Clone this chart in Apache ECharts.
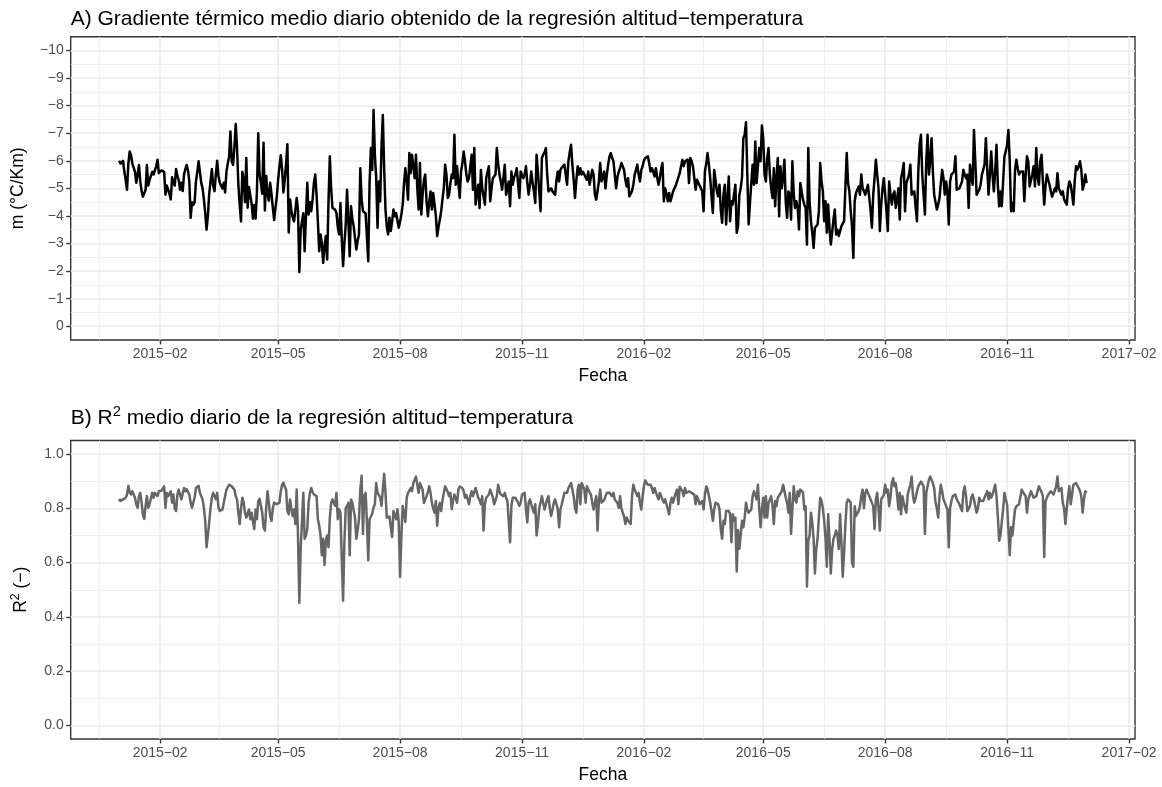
<!DOCTYPE html>
<html>
<head>
<meta charset="utf-8">
<script src="https://cdn.jsdelivr.net/npm/echarts@6.0.0/dist/echarts.min.js"></script>
<style>
  html, body { margin: 0; padding: 0; background: #ffffff; }
  #chart { width: 1162px; height: 787px; }
</style>
</head>
<body>
<div id="chart"></div>
<script>
// Daily series, one value per day starting at START_DATE
const START_DATE = '2015-01-01';

// A) mean daily lapse rate (°C/Km)
const gradientValues = [
  -6.0,-5.9,-5.95,-6.0,-5.6,-5.3,-4.95,-5.9,-6.34,-6.2,
  -5.9,-5.75,-5.6,-5.2,-5.5,-5.85,-5.25,-4.9,-4.7,-4.75,
  -4.95,-5.85,-5.1,-5.3,-5.25,-5.6,-5.5,-5.65,-5.8,-6.04,
  -5.55,-5.6,-5.65,-5.7,-5.6,-4.77,-5.1,-4.95,-4.8,-4.6,
  -5.4,-5.2,-5.1,-5.7,-5.45,-5.3,-4.95,-5.2,-4.9,-5.5,
  -5.7,-5.85,-5.65,-5.25,-3.93,-4.5,-4.4,-4.5,-5.25,-5.6,
  -5.98,-5.6,-5.2,-5.0,-4.6,-4.1,-3.5,-4.0,-4.8,-5.25,
  -5.7,-5.1,-4.9,-5.5,-6.0,-5.45,-5.2,-5.1,-5.0,-5.2,
  -4.85,-5.6,-5.9,-6.15,-7.06,-5.98,-5.85,-6.5,-7.33,-6.45,
  -5.15,-4.4,-3.8,-5.6,-5.3,-4.5,-6.1,-4.3,-5.05,-5.1,
  -4.45,-3.9,-4.4,-3.9,-4.86,-7.0,-5.5,-5.2,-4.8,-6.65,
  -4.2,-5.45,-4.8,-4.55,-5.2,-4.8,-4.3,-3.85,-4.3,-4.7,
  -5.3,-5.8,-6.2,-5.7,-4.85,-5.3,-5.9,-6.6,-3.4,-4.6,
  -4.2,-3.93,-3.8,-4.2,-4.65,-4.2,-1.97,-3.5,-3.8,-4.1,
  -2.72,-4.0,-5.2,-4.05,-4.5,-4.17,-4.6,-5.2,-5.5,-4.77,
  -3.8,-2.72,-3.33,-3.0,-2.3,-2.9,-3.27,-2.42,-4.5,-6.16,
  -5.0,-4.29,-4.3,-4.23,-4.1,-3.6,-3.33,-4.47,-3.2,-2.18,
  -3.0,-3.69,-4.95,-3.8,-2.54,-4.35,-3.9,-3.63,-3.69,-2.78,
  -3.1,-3.33,-5.73,-4.6,-4.17,-4.23,-4.1,-4.05,-2.36,-5.2,
  -6.46,-5.67,-7.84,-6.2,-5.37,-3.57,-5.25,-4.53,-6.5,-7.66,
  -5.73,-4.23,-3.6,-3.33,-3.93,-3.45,-3.8,-4.23,-3.99,-4.1,
  -4.05,-3.57,-3.8,-4.05,-4.41,-5.2,-5.73,-5.25,-4.59,-6.28,
  -5.55,-6.22,-5.8,-5.37,-6.22,-5.0,-4.23,-5.92,-4.05,-4.77,
  -5.3,-5.5,-4.53,-3.99,-4.5,-4.89,-4.23,-4.83,-4.77,-4.0,
  -3.27,-3.6,-3.87,-4.17,-4.6,-5.0,-5.86,-5.5,-4.65,-4.77,
  -5.2,-5.5,-5.37,-6.94,-5.13,-5.8,-5.2,-4.65,-5.61,-5.9,
  -6.34,-5.98,-5.5,-5.25,-5.37,-5.8,-6.22,-4.95,-6.46,-4.41,
  -4.8,-5.13,-4.29,-5.67,-5.0,-4.7,-4.41,-5.37,-5.6,-5.8,
  -4.53,-5.0,-5.37,-5.4,-5.5,-6.46,-5.9,-5.5,-5.25,-4.95,
  -5.4,-5.86,-4.77,-5.0,-5.25,-4.35,-5.61,-5.13,-5.4,-5.5,
  -5.73,-5.2,-4.65,-5.61,-5.5,-5.37,-5.5,-5.8,-5.2,-4.77,
  -5.13,-5.61,-5.2,-4.89,-4.47,-6.22,-5.61,-4.9,-4.17,-6.1,
  -6.22,-6.3,-6.46,-5.5,-4.89,-4.95,-5.0,-4.89,-4.85,-4.77,
  -5.3,-5.61,-5.25,-5.67,-5.75,-5.8,-5.86,-5.5,-5.13,-5.98,
  -6.3,-6.58,-5.86,-5.3,-4.65,-5.3,-5.8,-5.5,-5.73,-5.5,
  -5.6,-5.67,-5.4,-5.31,-5.61,-5.13,-5.4,-5.67,-5.5,-4.77,
  -4.59,-4.9,-5.25,-5.92,-5.25,-5.4,-5.61,-5.0,-5.5,-5.86,
  -6.16,-6.28,-6.1,-5.98,-5.5,-5.0,-5.4,-5.61,-5.73,-5.92,
  -5.8,-5.67,-5.3,-5.07,-5.37,-4.71,-4.65,-4.9,-5.13,-5.5,
  -5.67,-5.86,-5.5,-5.25,-5.67,-5.8,-6.0,-6.1,-6.04,-6.16,
  -5.9,-5.61,-5.73,-5.6,-5.43,-5.73,-5.4,-5.13,-5.37,-5.7,
  -5.92,-4.53,-5.0,-4.8,-4.53,-4.83,-4.53,-4.7,-4.89,-5.0,
  -5.1,-5.25,-5.31,-5.55,-5.8,-6.04,-5.8,-5.98,-6.0,-6.04,
  -5.19,-6.1,-5.98,-5.8,-5.73,-4.95,-5.31,-5.25,-5.1,-5.0,
  -4.89,-4.17,-5.61,-5.9,-6.28,-5.86,-5.37,-4.7,-4.11,-5.67,
  -5.31,-4.9,-4.71,-5.13,-4.2,-3.75,-4.77,-5.13,-3.69,-4.6,
  -5.43,-3.81,-4.53,-4.41,-4.8,-5.13,-3.39,-3.63,-4.77,-5.0,
  -5.4,-6.82,-6.94,-7.4,-5.5,-3.69,-4.47,-5.2,-5.86,-5.13,
  -6.7,-5.19,-5.8,-6.46,-5.98,-7.28,-6.82,-5.5,-5.25,-6.1,
  -6.46,-5.5,-5.0,-4.65,-5.73,-4.35,-5.4,-6.1,-3.99,-5.8,
  -5.0,-5.37,-6.04,-4.5,-3.93,-4.89,-4.77,-3.87,-5.98,-4.8,
  -4.29,-4.53,-4.29,-3.51,-5.19,-4.89,-4.6,-4.41,-4.29,-2.96,
  -6.46,-4.5,-3.81,-3.39,-2.84,-3.57,-3.6,-3.69,-4.17,-5.92,
  -5.25,-4.89,-3.81,-4.53,-3.39,-4.41,-3.57,-2.96,-3.4,-3.87,
  -4.23,-3.33,-3.5,-3.27,-3.45,-3.63,-3.69,-3.81,-3.75,-6.28,
  -5.2,-4.89,-4.17,-3.63,-2.48,-4.53,-4.83,-4.9,-5.07,-4.77,
  -5.5,-5.0,-4.9,-4.77,-4.83,-5.13,-5.13,-4.2,-3.57,-4.77,
  -5.37,-6.04,-5.5,-5.0,-3.45,-4.41,-5.0,-5.37,-4.77,-4.17,
  -3.45,-5.25,-4.8,-4.41,-4.77,-4.89,-4.29,-4.6,-5.0,-3.87,
  -5.37,-5.6,-5.92,-4.17,-5.19,-5.13,-5.5,-5.86,-4.77,-4.83,
  -4.89,-4.3,-3.81,-5.61,-6.58,-6.94,-5.5,-4.77,-4.05,-5.98,
  -6.94,-5.5,-6.0,-6.82,-5.61,-4.77,-4.5,-4.23,-4.41,-4.65,
  -5.2,-5.67,-5.37,-4.77,-5.25,-4.89,-3.69,-5.25,-5.5,-5.55,
  -5.61,-6.16,-4.95,-5.0,-5.0,-5.07,-5.25,-5.67,-5.5,-5.37,
  -5.5,-4.29,-5.86,-5.4,-5.13,-7.12,-5.98,-4.77,-4.8,-4.95,
  -5.13,-5.5,-5.55,-5.86,-6.82,-5.73,-4.77,-5.5,-6.34,-5.5,
  -4.89,-5.61,-6.58,-5.13,-4.35,-4.89,-4.35,-4.29,-6.16,-6.34,
  -6.58,-7.12,-5.98,-4.17,-4.47,-4.17,-5.67,-6.04,-5.73,-5.5,
  -5.6,-5.67,-5.61,-4.53,-5.5,-6.16,-5.98,-5.07,-5.13,-5.5,
  -5.8,-5.07,-6.46,-5.4,-5.13,-5.98,-6.22,-5.25,-4.41,-5.1,
  -5.5,-5.5,-5.13,-4.89,-4.7,-4.65,-5.0,-4.89,-5.55,-5.0,
  -5.0,-4.77,-4.89,-4.6,-4.53,-4.41,-5.0,-5.25,-5.13,-4.8,
  -4.41,-5.25,-5.8,-5.67,-5.8,-5.98,-5.67,-4.95,-5.13,-5.5,
  -5.19
];

// B) mean daily R² of the altitude-temperature regression
const r2Values = [
  .835,.827,.82,.833,.836,.839,.851,.883,.86,.851,
  .863,.857,.839,.815,.802,.845,.857,.821,.775,.761,
  .809,.845,.802,.815,.821,.857,.839,.857,.85,.845,
  .863,.857,.865,.869,.881,.802,.857,.845,.85,.863,
  .821,.851,.80,.79,.851,.869,.851,.833,.84,.875,
  .863,.871,.86,.851,.821,.802,.808,.84,.875,.881,
  .883,.857,.845,.833,.802,.754,.657,.70,.748,.802,
  .839,.857,.845,.833,.857,.802,.79,.79,.796,.79,
  .845,.869,.875,.887,.893,.881,.875,.869,.845,.833,
  .784,.742,.80,.839,.821,.784,.766,.78,.796,.76,
  .784,.75,.724,.796,.76,.827,.835,.839,.784,.73,
  .718,.80,.863,.821,.772,.754,.80,.821,.827,.815,
  .818,.821,.863,.887,.895,.88,.869,.79,.778,.833,
  .80,.772,.796,.742,.869,.70,.452,.651,.75,.857,
  .688,.70,.724,.821,.857,.875,.86,.851,.851,.845,
  .76,.736,.70,.627,.688,.591,.68,.70,.657,.764,
  .82,.833,.83,.809,.857,.76,.797,.785,.62,.46,
  .675,.80,.809,.821,.627,.833,.82,.815,.766,.688,
  .72,.76,.869,.92,.706,.845,.857,.75,.609,.76,
  .754,.78,.803,.815,.893,.857,.863,.84,.809,.869,
  .927,.857,.766,.76,.77,.772,.694,.79,.775,.76,
  .797,.75,.548,.70,.809,.815,.75,.839,.857,.865,
  .875,.863,.893,.905,.917,.923,.857,.893,.88,.869,
  .82,.815,.845,.86,.881,.857,.82,.80,.784,.827,
  .736,.80,.82,.79,.83,.857,.881,.875,.86,.845,
  .857,.797,.83,.851,.857,.82,.869,.88,.887,.875,
  .863,.839,.85,.857,.815,.845,.863,.845,.86,.875,
  .857,.839,.83,.815,.845,.718,.815,.839,.845,.851,
  .869,.857,.84,.815,.809,.845,.887,.863,.851,.851,
  .845,.857,.84,.827,.82,.675,.809,.839,.833,.839,
  .83,.821,.809,.821,.85,.857,.857,.796,.748,.821,
  .833,.815,.808,.784,.815,.70,.742,.80,.821,.845,
  .851,.796,.80,.833,.845,.80,.772,.796,.821,.833,
  .815,.796,.73,.796,.815,.821,.857,.863,.857,.875,
  .881,.893,.887,.845,.80,.784,.869,.887,.815,.893,
  .899,.87,.821,.881,.869,.875,.85,.821,.796,.80,
  .845,.718,.827,.869,.821,.815,.83,.845,.857,.863,
  .857,.85,.845,.857,.833,.839,.82,.802,.845,.80,
  .784,.77,.742,.766,.754,.75,.742,.845,.887,.87,
  .857,.845,.857,.82,.796,.845,.881,.903,.895,.887,
  .881,.887,.875,.857,.875,.86,.845,.833,.857,.845,
  .84,.821,.833,.815,.808,.778,.821,.839,.821,.84,
  .857,.869,.815,.88,.887,.863,.845,.875,.857,.863,
  .863,.869,.857,.863,.85,.815,.845,.833,.815,.82,
  .827,.796,.851,.881,.87,.845,.821,.79,.754,.796,
  .821,.827,.815,.796,.72,.688,.754,.742,.79,.796,
  .79,.778,.675,.778,.754,.766,.567,.72,.651,.70,
  .754,.73,.766,.821,.796,.784,.79,.796,.845,.863,
  .85,.833,.887,.80,.73,.796,.839,.766,.845,.766,
  .82,.821,.845,.81,.742,.827,.808,.839,.845,.855,
  .863,.887,.881,.84,.821,.784,.857,.706,.80,.881,
  .833,.821,.863,.845,.869,.875,.86,.796,.808,.512,
  .68,.70,.784,.748,.688,.56,.65,.688,.766,.839,
  .827,.80,.754,.688,.585,.778,.688,.56,.65,.688,
  .70,.718,.70,.65,.778,.675,.548,.636,.742,.821,
  .833,.839,.821,.60,.585,.808,.772,.778,.79,.808,
  .845,.869,.80,.857,.869,.865,.845,.839,.82,.808,
  .724,.833,.857,.80,.718,.833,.827,.85,.887,.857,
  .869,.808,.84,.893,.911,.881,.893,.85,.796,.857,
  .778,.845,.821,.80,.784,.85,.869,.887,.917,.845,
  .821,.84,.863,.881,.887,.899,.89,.881,.706,.857,
  .881,.905,.917,.91,.893,.875,.821,.80,.766,.845,
  .887,.863,.833,.821,.808,.796,.657,.802,.827,.845,
  .845,.851,.833,.827,.815,.808,.79,.86,.881,.845,
  .79,.796,.808,.84,.851,.833,.827,.784,.80,.839,
  .827,.821,.827,.84,.845,.863,.833,.857,.839,.85,
  .857,.887,.845,.772,.681,.70,.75,.796,.857,.833,
  .815,.72,.627,.73,.70,.75,.796,.808,.815,.815,
  .821,.869,.86,.857,.845,.784,.833,.84,.863,.857,
  .839,.833,.845,.851,.881,.887,.86,.845,.621,.827,
  .833,.85,.857,.863,.869,.851,.845,.88,.917,.863,
  .857,.875,.821,.80,.742,.80,.845,.881,.815,.821,
  .887,.89,.893,.887,.875,.863,.845,.784,.833,.863,
  .857
];

// Axis breaks
const dateTicks = ['2015-02-01','2015-05-01','2015-08-01','2015-11-01',
                   '2016-02-01','2016-05-01','2016-08-01','2016-11-01','2017-02-01'];
const dateBreaksOuter = ['2014-11-01', '2017-05-01'];
const gradientTicks = [-10, -9, -8, -7, -6, -5, -4, -3, -2, -1, 0];
const r2Ticks = [0, 0.2, 0.4, 0.6, 0.8, 1.0];

// ---------------------------------------------------------------
const DAY = 86400000;
const FONT = "'Liberation Sans', Arial, Helvetica, sans-serif";
const MINUS = '\u2212';
const t0 = Date.parse(START_DATE);
const nDays = gradientValues.length - 1;
const pad = nDays * 0.05;                 // 5 % expansion on each side
const xMin = t0 - pad * DAY;
const xMax = t0 + (nDays + pad) * DAY;

const toPairs = vals => vals.map((v, i) => [t0 + i * DAY, v]);
const majorX = dateTicks.map(d => Date.parse(d));
const allBreaks = [Date.parse(dateBreaksOuter[0])].concat(majorX, [Date.parse(dateBreaksOuter[1])]);
const minorX = [];
for (let i = 0; i < allBreaks.length - 1; i++) {
  const m = (allBreaks[i] + allBreaks[i + 1]) / 2;
  if (m > xMin && m < xMax) minorX.push(m);
}
const midpoints = ticks => ticks.slice(0, -1).map((v, i) => (v + ticks[i + 1]) / 2);

const fmtDate = t => {
  const d = new Date(t);
  return d.getUTCFullYear() + MINUS + String(d.getUTCMonth() + 1).padStart(2, '0');
};
const fmtSigned = v => (v < 0 ? MINUS + Math.abs(v) : String(v));

const GRID_MAJOR = { color: '#ebebeb', width: 1.6, type: 'solid' };
const GRID_MINOR = { color: '#ebebeb', width: 0.8, type: 'solid' };

function gridMarks(yMajor, yMinor) {
  const data = [];
  minorX.forEach(v => data.push({ xAxis: v, lineStyle: GRID_MINOR }));
  yMinor.forEach(v => data.push({ yAxis: v, lineStyle: GRID_MINOR }));
  majorX.forEach(v => data.push({ xAxis: v, lineStyle: GRID_MAJOR }));
  yMajor.forEach(v => data.push({ yAxis: v, lineStyle: GRID_MAJOR }));
  return {
    silent: true, symbol: ['none', 'none'], label: { show: false },
    emphasis: { disabled: true }, animation: false, z: 1, data
  };
}

const tickStyle = { show: true, length: 4.4, lineStyle: { color: '#333333', width: 1.4 } };
const labelStyle = { color: '#4d4d4d', fontSize: 14, fontFamily: FONT, margin: 7 };
const axisTitleStyle = { color: '#000000', fontSize: 17.5, fontFamily: FONT, lineHeight: 21 };

function xAxisFor(gridIndex) {
  return {
    gridIndex, type: 'value', min: xMin, max: xMax, position: 'bottom',
    axisLine: { show: false, onZero: false },
    axisTick: Object.assign({ customValues: majorX }, tickStyle),
    axisLabel: Object.assign({ customValues: majorX, formatter: fmtDate }, labelStyle),
    splitLine: { show: false },
    name: 'Fecha', nameLocation: 'middle', nameGap: 26,
    nameTextStyle: Object.assign({ verticalAlign: 'top' }, axisTitleStyle)
  };
}

const gridBase = { show: true, borderColor: '#333333', borderWidth: 1.4, backgroundColor: '#ffffff', containLabel: false };

const option = {
  animation: false,
  textStyle: { fontFamily: FONT },
  title: [
    {
      text: 'A) Gradiente térmico medio diario obtenido de la regresión altitud' + MINUS + 'temperatura',
      left: 70.7, top: 7, padding: 0,
      textStyle: { fontSize: 21, fontWeight: 'normal', color: '#000000', fontFamily: FONT, lineHeight: 24 }
    },
    {
      text: 'B) R{sup|2} medio diario de la regresión altitud' + MINUS + 'temperatura',
      left: 70.7, top: 404, padding: 0,
      textStyle: {
        fontSize: 21, fontWeight: 'normal', color: '#000000', fontFamily: FONT, lineHeight: 28,
        rich: { sup: { fontSize: 14.7, lineHeight: 15, verticalAlign: 'top', color: '#000000', fontFamily: FONT } }
      }
    }
  ],
  grid: [
    Object.assign({ left: 70.7, top: 36.7, width: 1064.3, height: 303.3 }, gridBase),
    Object.assign({ left: 70.7, top: 440.5, width: 1064.3, height: 302.3 }, gridBase)
  ],
  xAxis: [xAxisFor(0), xAxisFor(1)],
  yAxis: [
    {
      gridIndex: 0, type: 'value', inverse: true, min: -10.5, max: 0.5, position: 'left',
      axisLine: { show: false, onZero: false },
      axisTick: Object.assign({ customValues: gradientTicks }, tickStyle),
      axisLabel: Object.assign({ customValues: gradientTicks, formatter: fmtSigned }, labelStyle),
      splitLine: { show: false },
      name: 'm (°C/Km)', nameLocation: 'middle', nameGap: 37, nameRotate: 90,
      nameTextStyle: axisTitleStyle
    },
    {
      gridIndex: 1, type: 'value', min: -0.05, max: 1.05, position: 'left',
      axisLine: { show: false, onZero: false },
      axisTick: Object.assign({ customValues: r2Ticks }, tickStyle),
      axisLabel: Object.assign({ customValues: r2Ticks, formatter: v => v.toFixed(1) }, labelStyle),
      splitLine: { show: false },
      name: 'R{sup|2} (' + MINUS + ')', nameLocation: 'middle', nameGap: 37, nameRotate: 90,
      nameTextStyle: Object.assign({}, axisTitleStyle, {
        lineHeight: 24,
        rich: { sup: { fontSize: 12.2, lineHeight: 12, verticalAlign: 'top', color: '#000000', fontFamily: FONT } }
      })
    }
  ],
  series: [
    {
      name: 'm', type: 'line', xAxisIndex: 0, yAxisIndex: 0,
      data: toPairs(gradientValues),
      showSymbol: false, symbol: 'none', z: 3,
      lineStyle: { color: '#000000', width: 2.5, join: 'round' },
      emphasis: { disabled: true },
      markLine: gridMarks(gradientTicks, midpoints(gradientTicks))
    },
    {
      name: 'R2', type: 'line', xAxisIndex: 1, yAxisIndex: 1,
      data: toPairs(r2Values),
      showSymbol: false, symbol: 'none', z: 3,
      lineStyle: { color: '#666666', width: 2.5, join: 'round' },
      emphasis: { disabled: true },
      markLine: gridMarks(r2Ticks, midpoints(r2Ticks))
    }
  ]
};

const chart = echarts.init(document.getElementById('chart'), null, { renderer: 'canvas' });
chart.setOption(option);
</script>
</body>
</html>
